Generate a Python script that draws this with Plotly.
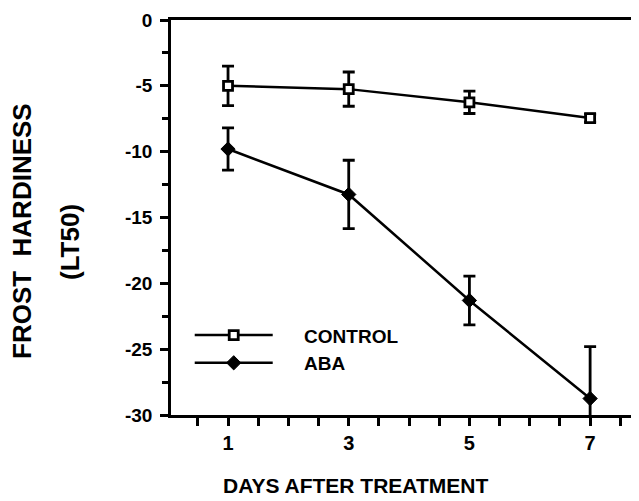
import plotly.graph_objects as go

days = [1, 3, 5, 7]
control = [-5.0, -5.25, -6.25, -7.45]
control_err = [1.5, 1.3, 0.85, 0.3]
aba = [-9.8, -13.25, -21.3, -28.75]
aba_err = [1.6, 2.6, 1.85, 3.95]

x_ticks = [1, 3, 5, 7]
y_ticks = [0, -5, -10, -15, -20, -25, -30]

FONT = "Liberation Sans, Arial, sans-serif"

# page body has an 8px offset; figure coordinates = reference - 8
OFF = 8
W, H = 639 - OFF, 501 - OFF
L, T = 171 - OFF, 20 - OFF
B = H - (415 - OFF)
PW, PH = W - L, H - T - B

fig = go.Figure()
fig.add_trace(go.Scatter(
    x=days, y=control, name="\u00a0\u00a0\u00a0\u00a0\u00a0CONTROL", mode="lines+markers",
    line=dict(color="black", width=2.5),
    marker=dict(symbol="square", size=9, color="white", line=dict(color="black", width=2.8)),
    error_y=dict(type="data", array=control_err, color="black", thickness=2.8, width=6),
))
fig.add_trace(go.Scatter(
    x=days, y=aba, name="\u00a0\u00a0\u00a0\u00a0\u00a0ABA", mode="lines+markers",
    line=dict(color="black", width=2.5),
    marker=dict(symbol="diamond", size=11, color="black", line=dict(color="black", width=1)),
    error_y=dict(type="data", array=aba_err, color="black", thickness=2.8, width=6),
))

fig.update_layout(
    width=W, height=H,
    margin=dict(l=L, r=0, t=T, b=B, autoexpand=False),
    paper_bgcolor="white", plot_bgcolor="white",
    font=dict(family=FONT, color="black"),
    showlegend=True,
    legend=dict(
        x=0.04, y=0.25, xanchor="left", yanchor="top",
        font=dict(family=FONT, size=19, color="black", weight="bold"),
        itemwidth=78, bgcolor="rgba(0,0,0,0)", tracegroupgap=0,
    ),
    xaxis=dict(
        range=[0.055, 7.81], tickvals=x_ticks, ticktext=[str(v) for v in x_ticks],
        showline=True, linecolor="black", linewidth=2.5, mirror=True,
        ticks="outside", ticklen=8, tickwidth=2.5, tickcolor="black",
        minor=dict(dtick=0.5, tick0=0.5, ticks="outside", ticklen=8, tickwidth=2.5, tickcolor="black"),
        tickfont=dict(family=FONT, size=20, color="black", weight="bold"),
        showgrid=False, zeroline=False,
    ),
    yaxis=dict(
        range=[-30, 0], tickvals=y_ticks, ticktext=[str(v) for v in y_ticks],
        showline=True, linecolor="black", linewidth=2.5, mirror=False,
        ticks="outside", ticklen=8, tickwidth=2.5, tickcolor="black",
        minor=dict(dtick=2.5, tick0=0, ticks="outside", ticklen=6, tickwidth=2.5, tickcolor="black"),
        tickfont=dict(family=FONT, size=19, color="black", weight="bold"),
        ticklabelstandoff=4,
        showgrid=False, zeroline=False,
    ),
    annotations=[
        dict(text="DAYS AFTER TREATMENT", xref="paper", yref="paper",
             x=(355 - 171) / PW, y=-(485 - 415) / PH, xanchor="center", yanchor="middle",
             showarrow=False, font=dict(family=FONT, size=21, color="black", weight="bold")),
        dict(text="FROST  HARDINESS", xref="paper", yref="paper",
             x=-(171 - 22) / PW, y=(415 - 231) / PH, xanchor="center", yanchor="middle",
             textangle=-90, showarrow=False,
             font=dict(family=FONT, size=26, color="black", weight="bold")),
        dict(text="(LT50)", xref="paper", yref="paper",
             x=-(171 - 70) / PW, y=(415 - 242) / PH, xanchor="center", yanchor="middle",
             textangle=-90, showarrow=False,
             font=dict(family=FONT, size=26, color="black", weight="bold")),
    ],
)

fig.write_html("out.html")
